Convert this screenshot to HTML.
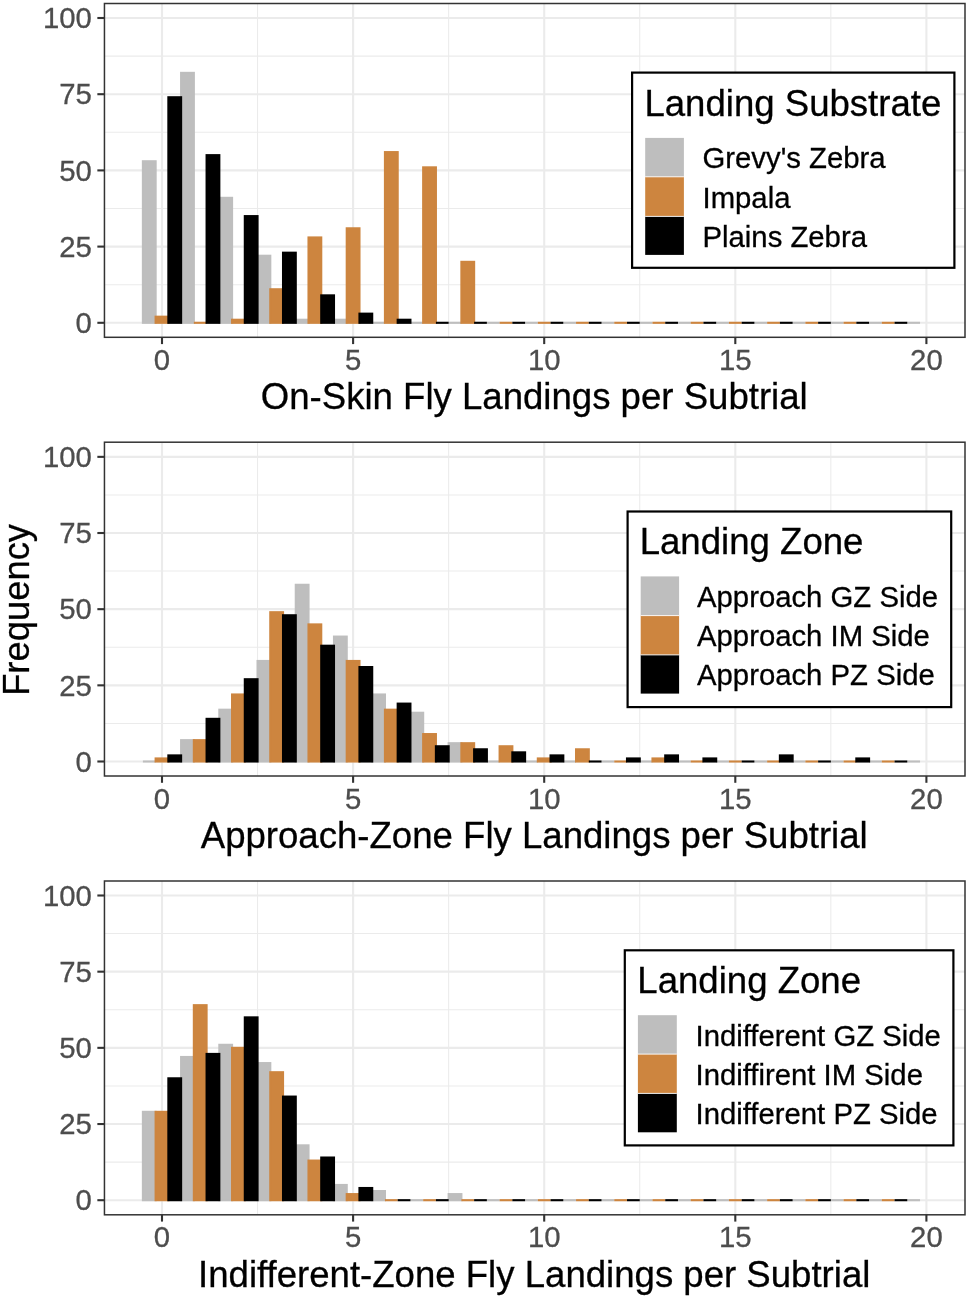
<!DOCTYPE html>
<html lang="en"><head><meta charset="utf-8"><title>Fly landings histograms</title>
<style>
html,body{margin:0;padding:0;background:#fff;}
body{width:968px;height:1298px;overflow:hidden;font-family:"Liberation Sans",Arial,Helvetica,sans-serif;}
svg{display:block;}
</style></head><body>
<svg width="968" height="1298" viewBox="0 0 968 1298" font-family="'Liberation Sans', Arial, Helvetica, sans-serif">
<rect width="968" height="1298" fill="#fff"/>
<g>
<line x1="104.45" x2="965.0" y1="284.70" y2="284.70" stroke="#EBEBEB" stroke-width="1.05"/>
<line x1="104.45" x2="965.0" y1="208.50" y2="208.50" stroke="#EBEBEB" stroke-width="1.05"/>
<line x1="104.45" x2="965.0" y1="132.30" y2="132.30" stroke="#EBEBEB" stroke-width="1.05"/>
<line x1="104.45" x2="965.0" y1="56.10" y2="56.10" stroke="#EBEBEB" stroke-width="1.05"/>
<line y1="3.5" y2="337.3" x1="257.55" x2="257.55" stroke="#EBEBEB" stroke-width="1.05"/>
<line y1="3.5" y2="337.3" x1="448.65" x2="448.65" stroke="#EBEBEB" stroke-width="1.05"/>
<line y1="3.5" y2="337.3" x1="639.75" x2="639.75" stroke="#EBEBEB" stroke-width="1.05"/>
<line y1="3.5" y2="337.3" x1="830.85" x2="830.85" stroke="#EBEBEB" stroke-width="1.05"/>
<line x1="104.45" x2="965.0" y1="322.80" y2="322.80" stroke="#EBEBEB" stroke-width="2.1"/>
<line x1="104.45" x2="965.0" y1="246.60" y2="246.60" stroke="#EBEBEB" stroke-width="2.1"/>
<line x1="104.45" x2="965.0" y1="170.40" y2="170.40" stroke="#EBEBEB" stroke-width="2.1"/>
<line x1="104.45" x2="965.0" y1="94.20" y2="94.20" stroke="#EBEBEB" stroke-width="2.1"/>
<line x1="104.45" x2="965.0" y1="18.00" y2="18.00" stroke="#EBEBEB" stroke-width="2.1"/>
<line y1="3.5" y2="337.3" x1="162.00" x2="162.00" stroke="#EBEBEB" stroke-width="2.1"/>
<line y1="3.5" y2="337.3" x1="353.10" x2="353.10" stroke="#EBEBEB" stroke-width="2.1"/>
<line y1="3.5" y2="337.3" x1="544.20" x2="544.20" stroke="#EBEBEB" stroke-width="2.1"/>
<line y1="3.5" y2="337.3" x1="735.30" x2="735.30" stroke="#EBEBEB" stroke-width="2.1"/>
<line y1="3.5" y2="337.3" x1="926.40" x2="926.40" stroke="#EBEBEB" stroke-width="2.1"/>
<g fill="#BEBEBE" stroke="#BEBEBE" stroke-width="2.1" stroke-linejoin="miter">
<rect x="142.89" y="161.26" width="12.74" height="161.54"/>
<rect x="181.11" y="72.86" width="12.74" height="249.94"/>
<rect x="219.33" y="197.83" width="12.74" height="124.97"/>
<rect x="257.55" y="255.74" width="12.74" height="67.06"/>
<rect x="295.77" y="319.75" width="12.74" height="3.05"/>
<rect x="333.99" y="319.75" width="12.74" height="3.05"/>
<rect x="372.21" y="321.75" width="12.74" height="2.10" stroke="none"/>
<rect x="410.43" y="321.75" width="12.74" height="2.10" stroke="none"/>
<rect x="448.65" y="321.75" width="12.74" height="2.10" stroke="none"/>
<rect x="486.87" y="321.75" width="12.74" height="2.10" stroke="none"/>
<rect x="525.09" y="321.75" width="12.74" height="2.10" stroke="none"/>
<rect x="563.31" y="321.75" width="12.74" height="2.10" stroke="none"/>
<rect x="601.53" y="321.75" width="12.74" height="2.10" stroke="none"/>
<rect x="639.75" y="321.75" width="12.74" height="2.10" stroke="none"/>
<rect x="677.97" y="321.75" width="12.74" height="2.10" stroke="none"/>
<rect x="716.19" y="321.75" width="12.74" height="2.10" stroke="none"/>
<rect x="754.41" y="321.75" width="12.74" height="2.10" stroke="none"/>
<rect x="792.63" y="321.75" width="12.74" height="2.10" stroke="none"/>
<rect x="830.85" y="321.75" width="12.74" height="2.10" stroke="none"/>
<rect x="869.07" y="321.75" width="12.74" height="2.10" stroke="none"/>
<rect x="907.29" y="321.75" width="12.74" height="2.10" stroke="none"/>
</g>
<g fill="#CD853F" stroke="#CD853F" stroke-width="2.1" stroke-linejoin="miter">
<rect x="155.63" y="316.70" width="12.74" height="6.10"/>
<rect x="193.85" y="321.75" width="12.74" height="2.10" stroke="none"/>
<rect x="232.07" y="319.75" width="12.74" height="3.05"/>
<rect x="270.29" y="289.27" width="12.74" height="33.53"/>
<rect x="308.51" y="237.46" width="12.74" height="85.34"/>
<rect x="346.73" y="228.31" width="12.74" height="94.49"/>
<rect x="384.95" y="152.11" width="12.74" height="170.69"/>
<rect x="423.17" y="167.35" width="12.74" height="155.45"/>
<rect x="461.39" y="261.84" width="12.74" height="60.96"/>
<rect x="499.61" y="321.75" width="12.74" height="2.10" stroke="none"/>
<rect x="537.83" y="321.75" width="12.74" height="2.10" stroke="none"/>
<rect x="576.05" y="321.75" width="12.74" height="2.10" stroke="none"/>
<rect x="614.27" y="321.75" width="12.74" height="2.10" stroke="none"/>
<rect x="652.49" y="321.75" width="12.74" height="2.10" stroke="none"/>
<rect x="690.71" y="321.75" width="12.74" height="2.10" stroke="none"/>
<rect x="728.93" y="321.75" width="12.74" height="2.10" stroke="none"/>
<rect x="767.15" y="321.75" width="12.74" height="2.10" stroke="none"/>
<rect x="805.37" y="321.75" width="12.74" height="2.10" stroke="none"/>
<rect x="843.59" y="321.75" width="12.74" height="2.10" stroke="none"/>
<rect x="881.81" y="321.75" width="12.74" height="2.10" stroke="none"/>
</g>
<g fill="#000000" stroke="#000000" stroke-width="2.1" stroke-linejoin="miter">
<rect x="168.37" y="97.25" width="12.74" height="225.55"/>
<rect x="206.59" y="155.16" width="12.74" height="167.64"/>
<rect x="244.81" y="216.12" width="12.74" height="106.68"/>
<rect x="283.03" y="252.70" width="12.74" height="70.10"/>
<rect x="321.25" y="295.37" width="12.74" height="27.43"/>
<rect x="359.47" y="313.66" width="12.74" height="9.14"/>
<rect x="397.69" y="319.75" width="12.74" height="3.05"/>
<rect x="435.91" y="321.75" width="12.74" height="2.10" stroke="none"/>
<rect x="474.13" y="321.75" width="12.74" height="2.10" stroke="none"/>
<rect x="512.35" y="321.75" width="12.74" height="2.10" stroke="none"/>
<rect x="550.57" y="321.75" width="12.74" height="2.10" stroke="none"/>
<rect x="588.79" y="321.75" width="12.74" height="2.10" stroke="none"/>
<rect x="627.01" y="321.75" width="12.74" height="2.10" stroke="none"/>
<rect x="665.23" y="321.75" width="12.74" height="2.10" stroke="none"/>
<rect x="703.45" y="321.75" width="12.74" height="2.10" stroke="none"/>
<rect x="741.67" y="321.75" width="12.74" height="2.10" stroke="none"/>
<rect x="779.89" y="321.75" width="12.74" height="2.10" stroke="none"/>
<rect x="818.11" y="321.75" width="12.74" height="2.10" stroke="none"/>
<rect x="856.33" y="321.75" width="12.74" height="2.10" stroke="none"/>
<rect x="894.55" y="321.75" width="12.74" height="2.10" stroke="none"/>
</g>
<rect x="104.45" y="3.5" width="860.55" height="333.80" fill="none" stroke="#333333" stroke-width="1.5"/>
<line x1="97.35" x2="104.45" y1="322.80" y2="322.80" stroke="#333333" stroke-width="2.1"/>
<text x="91.9" y="333.00" font-size="29.3" fill="#4D4D4D" stroke="#4D4D4D" stroke-width="0.3" text-anchor="end">0</text>
<line x1="97.35" x2="104.45" y1="246.60" y2="246.60" stroke="#333333" stroke-width="2.1"/>
<text x="91.9" y="256.80" font-size="29.3" fill="#4D4D4D" stroke="#4D4D4D" stroke-width="0.3" text-anchor="end">25</text>
<line x1="97.35" x2="104.45" y1="170.40" y2="170.40" stroke="#333333" stroke-width="2.1"/>
<text x="91.9" y="180.60" font-size="29.3" fill="#4D4D4D" stroke="#4D4D4D" stroke-width="0.3" text-anchor="end">50</text>
<line x1="97.35" x2="104.45" y1="94.20" y2="94.20" stroke="#333333" stroke-width="2.1"/>
<text x="91.9" y="104.40" font-size="29.3" fill="#4D4D4D" stroke="#4D4D4D" stroke-width="0.3" text-anchor="end">75</text>
<line x1="97.35" x2="104.45" y1="18.00" y2="18.00" stroke="#333333" stroke-width="2.1"/>
<text x="91.9" y="28.20" font-size="29.3" fill="#4D4D4D" stroke="#4D4D4D" stroke-width="0.3" text-anchor="end">100</text>
<line y1="337.3" y2="344.10" x1="162.00" x2="162.00" stroke="#333333" stroke-width="2.1"/>
<text x="162.00" y="369.90" font-size="29.3" fill="#4D4D4D" stroke="#4D4D4D" stroke-width="0.3" text-anchor="middle">0</text>
<line y1="337.3" y2="344.10" x1="353.10" x2="353.10" stroke="#333333" stroke-width="2.1"/>
<text x="353.10" y="369.90" font-size="29.3" fill="#4D4D4D" stroke="#4D4D4D" stroke-width="0.3" text-anchor="middle">5</text>
<line y1="337.3" y2="344.10" x1="544.20" x2="544.20" stroke="#333333" stroke-width="2.1"/>
<text x="544.20" y="369.90" font-size="29.3" fill="#4D4D4D" stroke="#4D4D4D" stroke-width="0.3" text-anchor="middle">10</text>
<line y1="337.3" y2="344.10" x1="735.30" x2="735.30" stroke="#333333" stroke-width="2.1"/>
<text x="735.30" y="369.90" font-size="29.3" fill="#4D4D4D" stroke="#4D4D4D" stroke-width="0.3" text-anchor="middle">15</text>
<line y1="337.3" y2="344.10" x1="926.40" x2="926.40" stroke="#333333" stroke-width="2.1"/>
<text x="926.40" y="369.90" font-size="29.3" fill="#4D4D4D" stroke="#4D4D4D" stroke-width="0.3" text-anchor="middle">20</text>
<text x="534.23" y="409.20" font-size="36.6" fill="#000" stroke="#000" stroke-width="0.3" text-anchor="middle">On-Skin Fly Landings per Subtrial</text>
<rect x="632.1" y="72.6" width="322.30" height="195.20" fill="#fff" stroke="#000" stroke-width="2.2"/>
<text x="644.4" y="115.5" font-size="36.6" fill="#000" stroke="#000" stroke-width="0.3">Landing Substrate</text>
<rect x="645.2" y="137.9" width="38.7" height="38.90" fill="#BEBEBE"/>
<text x="702.5" y="167.9" font-size="29.3" fill="#000" stroke="#000" stroke-width="0.3">Grevy's Zebra</text>
<rect x="645.2" y="176.8" width="38.7" height="39.60" fill="#CD853F"/>
<line x1="645.2" x2="683.90" y1="176.8" y2="176.8" stroke="#fff" stroke-width="0.9"/>
<text x="702.5" y="207.7" font-size="29.3" fill="#000" stroke="#000" stroke-width="0.3">Impala</text>
<rect x="645.2" y="216.4" width="38.7" height="38.50" fill="#000000"/>
<line x1="645.2" x2="683.90" y1="216.4" y2="216.4" stroke="#fff" stroke-width="0.9"/>
<text x="702.5" y="246.8" font-size="29.3" fill="#000" stroke="#000" stroke-width="0.3">Plains Zebra</text>
</g>
<g>
<line x1="104.45" x2="965.0" y1="723.42" y2="723.42" stroke="#EBEBEB" stroke-width="1.05"/>
<line x1="104.45" x2="965.0" y1="647.26" y2="647.26" stroke="#EBEBEB" stroke-width="1.05"/>
<line x1="104.45" x2="965.0" y1="571.09" y2="571.09" stroke="#EBEBEB" stroke-width="1.05"/>
<line x1="104.45" x2="965.0" y1="494.93" y2="494.93" stroke="#EBEBEB" stroke-width="1.05"/>
<line y1="442.2" y2="776.0" x1="257.55" x2="257.55" stroke="#EBEBEB" stroke-width="1.05"/>
<line y1="442.2" y2="776.0" x1="448.65" x2="448.65" stroke="#EBEBEB" stroke-width="1.05"/>
<line y1="442.2" y2="776.0" x1="639.75" x2="639.75" stroke="#EBEBEB" stroke-width="1.05"/>
<line y1="442.2" y2="776.0" x1="830.85" x2="830.85" stroke="#EBEBEB" stroke-width="1.05"/>
<line x1="104.45" x2="965.0" y1="761.50" y2="761.50" stroke="#EBEBEB" stroke-width="2.1"/>
<line x1="104.45" x2="965.0" y1="685.34" y2="685.34" stroke="#EBEBEB" stroke-width="2.1"/>
<line x1="104.45" x2="965.0" y1="609.17" y2="609.17" stroke="#EBEBEB" stroke-width="2.1"/>
<line x1="104.45" x2="965.0" y1="533.01" y2="533.01" stroke="#EBEBEB" stroke-width="2.1"/>
<line x1="104.45" x2="965.0" y1="456.85" y2="456.85" stroke="#EBEBEB" stroke-width="2.1"/>
<line y1="442.2" y2="776.0" x1="162.00" x2="162.00" stroke="#EBEBEB" stroke-width="2.1"/>
<line y1="442.2" y2="776.0" x1="353.10" x2="353.10" stroke="#EBEBEB" stroke-width="2.1"/>
<line y1="442.2" y2="776.0" x1="544.20" x2="544.20" stroke="#EBEBEB" stroke-width="2.1"/>
<line y1="442.2" y2="776.0" x1="735.30" x2="735.30" stroke="#EBEBEB" stroke-width="2.1"/>
<line y1="442.2" y2="776.0" x1="926.40" x2="926.40" stroke="#EBEBEB" stroke-width="2.1"/>
<g fill="#BEBEBE" stroke="#BEBEBE" stroke-width="2.1" stroke-linejoin="miter">
<rect x="142.89" y="760.45" width="12.74" height="2.10" stroke="none"/>
<rect x="181.11" y="740.17" width="12.74" height="21.33"/>
<rect x="219.33" y="709.71" width="12.74" height="51.79"/>
<rect x="257.55" y="660.97" width="12.74" height="100.53"/>
<rect x="295.77" y="584.80" width="12.74" height="176.70"/>
<rect x="333.99" y="636.59" width="12.74" height="124.91"/>
<rect x="372.21" y="694.48" width="12.74" height="67.02"/>
<rect x="410.43" y="712.76" width="12.74" height="48.74"/>
<rect x="448.65" y="743.22" width="12.74" height="18.28"/>
<rect x="486.87" y="760.45" width="12.74" height="2.10" stroke="none"/>
<rect x="525.09" y="760.45" width="12.74" height="2.10" stroke="none"/>
<rect x="563.31" y="760.45" width="12.74" height="2.10" stroke="none"/>
<rect x="601.53" y="760.45" width="12.74" height="2.10" stroke="none"/>
<rect x="639.75" y="760.45" width="12.74" height="2.10" stroke="none"/>
<rect x="677.97" y="760.45" width="12.74" height="2.10" stroke="none"/>
<rect x="716.19" y="760.45" width="12.74" height="2.10" stroke="none"/>
<rect x="754.41" y="760.45" width="12.74" height="2.10" stroke="none"/>
<rect x="792.63" y="760.45" width="12.74" height="2.10" stroke="none"/>
<rect x="830.85" y="760.45" width="12.74" height="2.10" stroke="none"/>
<rect x="869.07" y="760.45" width="12.74" height="2.10" stroke="none"/>
<rect x="907.29" y="760.45" width="12.74" height="2.10" stroke="none"/>
</g>
<g fill="#CD853F" stroke="#CD853F" stroke-width="2.1" stroke-linejoin="miter">
<rect x="155.63" y="758.45" width="12.74" height="3.05"/>
<rect x="193.85" y="740.17" width="12.74" height="21.33"/>
<rect x="232.07" y="694.48" width="12.74" height="67.02"/>
<rect x="270.29" y="612.22" width="12.74" height="149.28"/>
<rect x="308.51" y="624.41" width="12.74" height="137.09"/>
<rect x="346.73" y="660.97" width="12.74" height="100.53"/>
<rect x="384.95" y="709.71" width="12.74" height="51.79"/>
<rect x="423.17" y="734.08" width="12.74" height="27.42"/>
<rect x="461.39" y="743.22" width="12.74" height="18.28"/>
<rect x="499.61" y="746.27" width="12.74" height="15.23"/>
<rect x="537.83" y="758.45" width="12.74" height="3.05"/>
<rect x="576.05" y="749.31" width="12.74" height="12.19"/>
<rect x="614.27" y="760.45" width="12.74" height="2.10" stroke="none"/>
<rect x="652.49" y="758.45" width="12.74" height="3.05"/>
<rect x="690.71" y="760.45" width="12.74" height="2.10" stroke="none"/>
<rect x="728.93" y="760.45" width="12.74" height="2.10" stroke="none"/>
<rect x="767.15" y="760.45" width="12.74" height="2.10" stroke="none"/>
<rect x="805.37" y="760.45" width="12.74" height="2.10" stroke="none"/>
<rect x="843.59" y="760.45" width="12.74" height="2.10" stroke="none"/>
<rect x="881.81" y="760.45" width="12.74" height="2.10" stroke="none"/>
</g>
<g fill="#000000" stroke="#000000" stroke-width="2.1" stroke-linejoin="miter">
<rect x="168.37" y="755.41" width="12.74" height="6.09"/>
<rect x="206.59" y="718.85" width="12.74" height="42.65"/>
<rect x="244.81" y="679.24" width="12.74" height="82.26"/>
<rect x="283.03" y="615.27" width="12.74" height="146.23"/>
<rect x="321.25" y="645.73" width="12.74" height="115.77"/>
<rect x="359.47" y="667.06" width="12.74" height="94.44"/>
<rect x="397.69" y="703.62" width="12.74" height="57.88"/>
<rect x="435.91" y="746.27" width="12.74" height="15.23"/>
<rect x="474.13" y="749.31" width="12.74" height="12.19"/>
<rect x="512.35" y="752.36" width="12.74" height="9.14"/>
<rect x="550.57" y="755.41" width="12.74" height="6.09"/>
<rect x="588.79" y="760.45" width="12.74" height="2.10" stroke="none"/>
<rect x="627.01" y="758.45" width="12.74" height="3.05"/>
<rect x="665.23" y="755.41" width="12.74" height="6.09"/>
<rect x="703.45" y="758.45" width="12.74" height="3.05"/>
<rect x="741.67" y="760.45" width="12.74" height="2.10" stroke="none"/>
<rect x="779.89" y="755.41" width="12.74" height="6.09"/>
<rect x="818.11" y="760.45" width="12.74" height="2.10" stroke="none"/>
<rect x="856.33" y="758.45" width="12.74" height="3.05"/>
<rect x="894.55" y="760.45" width="12.74" height="2.10" stroke="none"/>
</g>
<rect x="104.45" y="442.2" width="860.55" height="333.80" fill="none" stroke="#333333" stroke-width="1.5"/>
<line x1="97.35" x2="104.45" y1="761.50" y2="761.50" stroke="#333333" stroke-width="2.1"/>
<text x="91.9" y="771.70" font-size="29.3" fill="#4D4D4D" stroke="#4D4D4D" stroke-width="0.3" text-anchor="end">0</text>
<line x1="97.35" x2="104.45" y1="685.34" y2="685.34" stroke="#333333" stroke-width="2.1"/>
<text x="91.9" y="695.54" font-size="29.3" fill="#4D4D4D" stroke="#4D4D4D" stroke-width="0.3" text-anchor="end">25</text>
<line x1="97.35" x2="104.45" y1="609.17" y2="609.17" stroke="#333333" stroke-width="2.1"/>
<text x="91.9" y="619.38" font-size="29.3" fill="#4D4D4D" stroke="#4D4D4D" stroke-width="0.3" text-anchor="end">50</text>
<line x1="97.35" x2="104.45" y1="533.01" y2="533.01" stroke="#333333" stroke-width="2.1"/>
<text x="91.9" y="543.21" font-size="29.3" fill="#4D4D4D" stroke="#4D4D4D" stroke-width="0.3" text-anchor="end">75</text>
<line x1="97.35" x2="104.45" y1="456.85" y2="456.85" stroke="#333333" stroke-width="2.1"/>
<text x="91.9" y="467.05" font-size="29.3" fill="#4D4D4D" stroke="#4D4D4D" stroke-width="0.3" text-anchor="end">100</text>
<line y1="776.0" y2="782.80" x1="162.00" x2="162.00" stroke="#333333" stroke-width="2.1"/>
<text x="162.00" y="808.60" font-size="29.3" fill="#4D4D4D" stroke="#4D4D4D" stroke-width="0.3" text-anchor="middle">0</text>
<line y1="776.0" y2="782.80" x1="353.10" x2="353.10" stroke="#333333" stroke-width="2.1"/>
<text x="353.10" y="808.60" font-size="29.3" fill="#4D4D4D" stroke="#4D4D4D" stroke-width="0.3" text-anchor="middle">5</text>
<line y1="776.0" y2="782.80" x1="544.20" x2="544.20" stroke="#333333" stroke-width="2.1"/>
<text x="544.20" y="808.60" font-size="29.3" fill="#4D4D4D" stroke="#4D4D4D" stroke-width="0.3" text-anchor="middle">10</text>
<line y1="776.0" y2="782.80" x1="735.30" x2="735.30" stroke="#333333" stroke-width="2.1"/>
<text x="735.30" y="808.60" font-size="29.3" fill="#4D4D4D" stroke="#4D4D4D" stroke-width="0.3" text-anchor="middle">15</text>
<line y1="776.0" y2="782.80" x1="926.40" x2="926.40" stroke="#333333" stroke-width="2.1"/>
<text x="926.40" y="808.60" font-size="29.3" fill="#4D4D4D" stroke="#4D4D4D" stroke-width="0.3" text-anchor="middle">20</text>
<text x="534.23" y="847.90" font-size="36.6" fill="#000" stroke="#000" stroke-width="0.3" text-anchor="middle">Approach-Zone Fly Landings per Subtrial</text>
<rect x="627.6" y="511.5" width="323.60" height="195.60" fill="#fff" stroke="#000" stroke-width="2.2"/>
<text x="639.7" y="553.9" font-size="36.6" fill="#000" stroke="#000" stroke-width="0.3">Landing Zone</text>
<rect x="640.7" y="576.4" width="38.4" height="39.20" fill="#BEBEBE"/>
<text x="697.0" y="606.6" font-size="29.3" fill="#000" stroke="#000" stroke-width="0.3">Approach GZ Side</text>
<rect x="640.7" y="615.6" width="38.4" height="39.30" fill="#CD853F"/>
<line x1="640.7" x2="679.10" y1="615.6" y2="615.6" stroke="#fff" stroke-width="0.9"/>
<text x="697.0" y="646.1" font-size="29.3" fill="#000" stroke="#000" stroke-width="0.3">Approach IM Side</text>
<rect x="640.7" y="654.9" width="38.4" height="38.70" fill="#000000"/>
<line x1="640.7" x2="679.10" y1="654.9" y2="654.9" stroke="#fff" stroke-width="0.9"/>
<text x="697.0" y="685.2" font-size="29.3" fill="#000" stroke="#000" stroke-width="0.3">Approach PZ Side</text>
</g>
<g>
<line x1="104.45" x2="965.0" y1="1162.11" y2="1162.11" stroke="#EBEBEB" stroke-width="1.05"/>
<line x1="104.45" x2="965.0" y1="1085.94" y2="1085.94" stroke="#EBEBEB" stroke-width="1.05"/>
<line x1="104.45" x2="965.0" y1="1009.76" y2="1009.76" stroke="#EBEBEB" stroke-width="1.05"/>
<line x1="104.45" x2="965.0" y1="933.59" y2="933.59" stroke="#EBEBEB" stroke-width="1.05"/>
<line y1="881.0" y2="1214.8" x1="257.55" x2="257.55" stroke="#EBEBEB" stroke-width="1.05"/>
<line y1="881.0" y2="1214.8" x1="448.65" x2="448.65" stroke="#EBEBEB" stroke-width="1.05"/>
<line y1="881.0" y2="1214.8" x1="639.75" x2="639.75" stroke="#EBEBEB" stroke-width="1.05"/>
<line y1="881.0" y2="1214.8" x1="830.85" x2="830.85" stroke="#EBEBEB" stroke-width="1.05"/>
<line x1="104.45" x2="965.0" y1="1200.20" y2="1200.20" stroke="#EBEBEB" stroke-width="2.1"/>
<line x1="104.45" x2="965.0" y1="1124.03" y2="1124.03" stroke="#EBEBEB" stroke-width="2.1"/>
<line x1="104.45" x2="965.0" y1="1047.85" y2="1047.85" stroke="#EBEBEB" stroke-width="2.1"/>
<line x1="104.45" x2="965.0" y1="971.67" y2="971.67" stroke="#EBEBEB" stroke-width="2.1"/>
<line x1="104.45" x2="965.0" y1="895.50" y2="895.50" stroke="#EBEBEB" stroke-width="2.1"/>
<line y1="881.0" y2="1214.8" x1="162.00" x2="162.00" stroke="#EBEBEB" stroke-width="2.1"/>
<line y1="881.0" y2="1214.8" x1="353.10" x2="353.10" stroke="#EBEBEB" stroke-width="2.1"/>
<line y1="881.0" y2="1214.8" x1="544.20" x2="544.20" stroke="#EBEBEB" stroke-width="2.1"/>
<line y1="881.0" y2="1214.8" x1="735.30" x2="735.30" stroke="#EBEBEB" stroke-width="2.1"/>
<line y1="881.0" y2="1214.8" x1="926.40" x2="926.40" stroke="#EBEBEB" stroke-width="2.1"/>
<g fill="#BEBEBE" stroke="#BEBEBE" stroke-width="2.1" stroke-linejoin="miter">
<rect x="142.89" y="1111.84" width="12.74" height="88.36"/>
<rect x="181.11" y="1056.99" width="12.74" height="143.21"/>
<rect x="219.33" y="1044.80" width="12.74" height="155.40"/>
<rect x="257.55" y="1063.09" width="12.74" height="137.12"/>
<rect x="295.77" y="1145.35" width="12.74" height="54.85"/>
<rect x="333.99" y="1184.97" width="12.74" height="15.24"/>
<rect x="372.21" y="1191.06" width="12.74" height="9.14"/>
<rect x="410.43" y="1199.15" width="12.74" height="2.10" stroke="none"/>
<rect x="448.65" y="1194.11" width="12.74" height="6.09"/>
<rect x="486.87" y="1199.15" width="12.74" height="2.10" stroke="none"/>
<rect x="525.09" y="1199.15" width="12.74" height="2.10" stroke="none"/>
<rect x="563.31" y="1199.15" width="12.74" height="2.10" stroke="none"/>
<rect x="601.53" y="1199.15" width="12.74" height="2.10" stroke="none"/>
<rect x="639.75" y="1199.15" width="12.74" height="2.10" stroke="none"/>
<rect x="677.97" y="1199.15" width="12.74" height="2.10" stroke="none"/>
<rect x="716.19" y="1199.15" width="12.74" height="2.10" stroke="none"/>
<rect x="754.41" y="1199.15" width="12.74" height="2.10" stroke="none"/>
<rect x="792.63" y="1199.15" width="12.74" height="2.10" stroke="none"/>
<rect x="830.85" y="1199.15" width="12.74" height="2.10" stroke="none"/>
<rect x="869.07" y="1199.15" width="12.74" height="2.10" stroke="none"/>
<rect x="907.29" y="1199.15" width="12.74" height="2.10" stroke="none"/>
</g>
<g fill="#CD853F" stroke="#CD853F" stroke-width="2.1" stroke-linejoin="miter">
<rect x="155.63" y="1111.84" width="12.74" height="88.36"/>
<rect x="193.85" y="1005.19" width="12.74" height="195.01"/>
<rect x="232.07" y="1047.85" width="12.74" height="152.35"/>
<rect x="270.29" y="1072.23" width="12.74" height="127.97"/>
<rect x="308.51" y="1160.59" width="12.74" height="39.61"/>
<rect x="346.73" y="1194.11" width="12.74" height="6.09"/>
<rect x="384.95" y="1199.15" width="12.74" height="2.10" stroke="none"/>
<rect x="423.17" y="1199.15" width="12.74" height="2.10" stroke="none"/>
<rect x="461.39" y="1199.15" width="12.74" height="2.10" stroke="none"/>
<rect x="499.61" y="1199.15" width="12.74" height="2.10" stroke="none"/>
<rect x="537.83" y="1199.15" width="12.74" height="2.10" stroke="none"/>
<rect x="576.05" y="1199.15" width="12.74" height="2.10" stroke="none"/>
<rect x="614.27" y="1199.15" width="12.74" height="2.10" stroke="none"/>
<rect x="652.49" y="1199.15" width="12.74" height="2.10" stroke="none"/>
<rect x="690.71" y="1199.15" width="12.74" height="2.10" stroke="none"/>
<rect x="728.93" y="1199.15" width="12.74" height="2.10" stroke="none"/>
<rect x="767.15" y="1199.15" width="12.74" height="2.10" stroke="none"/>
<rect x="805.37" y="1199.15" width="12.74" height="2.10" stroke="none"/>
<rect x="843.59" y="1199.15" width="12.74" height="2.10" stroke="none"/>
<rect x="881.81" y="1199.15" width="12.74" height="2.10" stroke="none"/>
</g>
<g fill="#000000" stroke="#000000" stroke-width="2.1" stroke-linejoin="miter">
<rect x="168.37" y="1078.32" width="12.74" height="121.88"/>
<rect x="206.59" y="1053.94" width="12.74" height="146.26"/>
<rect x="244.81" y="1017.38" width="12.74" height="182.82"/>
<rect x="283.03" y="1096.60" width="12.74" height="103.60"/>
<rect x="321.25" y="1157.54" width="12.74" height="42.66"/>
<rect x="359.47" y="1188.01" width="12.74" height="12.19"/>
<rect x="397.69" y="1199.15" width="12.74" height="2.10" stroke="none"/>
<rect x="435.91" y="1199.15" width="12.74" height="2.10" stroke="none"/>
<rect x="474.13" y="1199.15" width="12.74" height="2.10" stroke="none"/>
<rect x="512.35" y="1199.15" width="12.74" height="2.10" stroke="none"/>
<rect x="550.57" y="1199.15" width="12.74" height="2.10" stroke="none"/>
<rect x="588.79" y="1199.15" width="12.74" height="2.10" stroke="none"/>
<rect x="627.01" y="1199.15" width="12.74" height="2.10" stroke="none"/>
<rect x="665.23" y="1199.15" width="12.74" height="2.10" stroke="none"/>
<rect x="703.45" y="1199.15" width="12.74" height="2.10" stroke="none"/>
<rect x="741.67" y="1199.15" width="12.74" height="2.10" stroke="none"/>
<rect x="779.89" y="1199.15" width="12.74" height="2.10" stroke="none"/>
<rect x="818.11" y="1199.15" width="12.74" height="2.10" stroke="none"/>
<rect x="856.33" y="1199.15" width="12.74" height="2.10" stroke="none"/>
<rect x="894.55" y="1199.15" width="12.74" height="2.10" stroke="none"/>
</g>
<rect x="104.45" y="881.0" width="860.55" height="333.80" fill="none" stroke="#333333" stroke-width="1.5"/>
<line x1="97.35" x2="104.45" y1="1200.20" y2="1200.20" stroke="#333333" stroke-width="2.1"/>
<text x="91.9" y="1210.40" font-size="29.3" fill="#4D4D4D" stroke="#4D4D4D" stroke-width="0.3" text-anchor="end">0</text>
<line x1="97.35" x2="104.45" y1="1124.03" y2="1124.03" stroke="#333333" stroke-width="2.1"/>
<text x="91.9" y="1134.23" font-size="29.3" fill="#4D4D4D" stroke="#4D4D4D" stroke-width="0.3" text-anchor="end">25</text>
<line x1="97.35" x2="104.45" y1="1047.85" y2="1047.85" stroke="#333333" stroke-width="2.1"/>
<text x="91.9" y="1058.05" font-size="29.3" fill="#4D4D4D" stroke="#4D4D4D" stroke-width="0.3" text-anchor="end">50</text>
<line x1="97.35" x2="104.45" y1="971.67" y2="971.67" stroke="#333333" stroke-width="2.1"/>
<text x="91.9" y="981.88" font-size="29.3" fill="#4D4D4D" stroke="#4D4D4D" stroke-width="0.3" text-anchor="end">75</text>
<line x1="97.35" x2="104.45" y1="895.50" y2="895.50" stroke="#333333" stroke-width="2.1"/>
<text x="91.9" y="905.70" font-size="29.3" fill="#4D4D4D" stroke="#4D4D4D" stroke-width="0.3" text-anchor="end">100</text>
<line y1="1214.8" y2="1221.60" x1="162.00" x2="162.00" stroke="#333333" stroke-width="2.1"/>
<text x="162.00" y="1247.40" font-size="29.3" fill="#4D4D4D" stroke="#4D4D4D" stroke-width="0.3" text-anchor="middle">0</text>
<line y1="1214.8" y2="1221.60" x1="353.10" x2="353.10" stroke="#333333" stroke-width="2.1"/>
<text x="353.10" y="1247.40" font-size="29.3" fill="#4D4D4D" stroke="#4D4D4D" stroke-width="0.3" text-anchor="middle">5</text>
<line y1="1214.8" y2="1221.60" x1="544.20" x2="544.20" stroke="#333333" stroke-width="2.1"/>
<text x="544.20" y="1247.40" font-size="29.3" fill="#4D4D4D" stroke="#4D4D4D" stroke-width="0.3" text-anchor="middle">10</text>
<line y1="1214.8" y2="1221.60" x1="735.30" x2="735.30" stroke="#333333" stroke-width="2.1"/>
<text x="735.30" y="1247.40" font-size="29.3" fill="#4D4D4D" stroke="#4D4D4D" stroke-width="0.3" text-anchor="middle">15</text>
<line y1="1214.8" y2="1221.60" x1="926.40" x2="926.40" stroke="#333333" stroke-width="2.1"/>
<text x="926.40" y="1247.40" font-size="29.3" fill="#4D4D4D" stroke="#4D4D4D" stroke-width="0.3" text-anchor="middle">20</text>
<text x="534.23" y="1286.70" font-size="36.6" fill="#000" stroke="#000" stroke-width="0.3" text-anchor="middle">Indifferent-Zone Fly Landings per Subtrial</text>
<rect x="624.8" y="950.3" width="328.60" height="195.10" fill="#fff" stroke="#000" stroke-width="2.2"/>
<text x="637.3" y="993.3" font-size="36.6" fill="#000" stroke="#000" stroke-width="0.3">Landing Zone</text>
<rect x="637.9" y="1015.2" width="38.9" height="38.90" fill="#BEBEBE"/>
<text x="695.5" y="1045.8" font-size="29.3" fill="#000" stroke="#000" stroke-width="0.3">Indifferent GZ Side</text>
<rect x="637.9" y="1054.1" width="38.9" height="39.30" fill="#CD853F"/>
<line x1="637.9" x2="676.80" y1="1054.1" y2="1054.1" stroke="#fff" stroke-width="0.9"/>
<text x="695.5" y="1085.0" font-size="29.3" fill="#000" stroke="#000" stroke-width="0.3">Indiffirent IM Side</text>
<rect x="637.9" y="1093.4" width="38.9" height="38.90" fill="#000000"/>
<line x1="637.9" x2="676.80" y1="1093.4" y2="1093.4" stroke="#fff" stroke-width="0.9"/>
<text x="695.5" y="1123.8" font-size="29.3" fill="#000" stroke="#000" stroke-width="0.3">Indifferent PZ Side</text>
</g>
<text transform="translate(28.9,609.9) rotate(-90)" font-size="36.4" fill="#000" stroke="#000" stroke-width="0.3" text-anchor="middle">Frequency</text>
</svg>
</body></html>
